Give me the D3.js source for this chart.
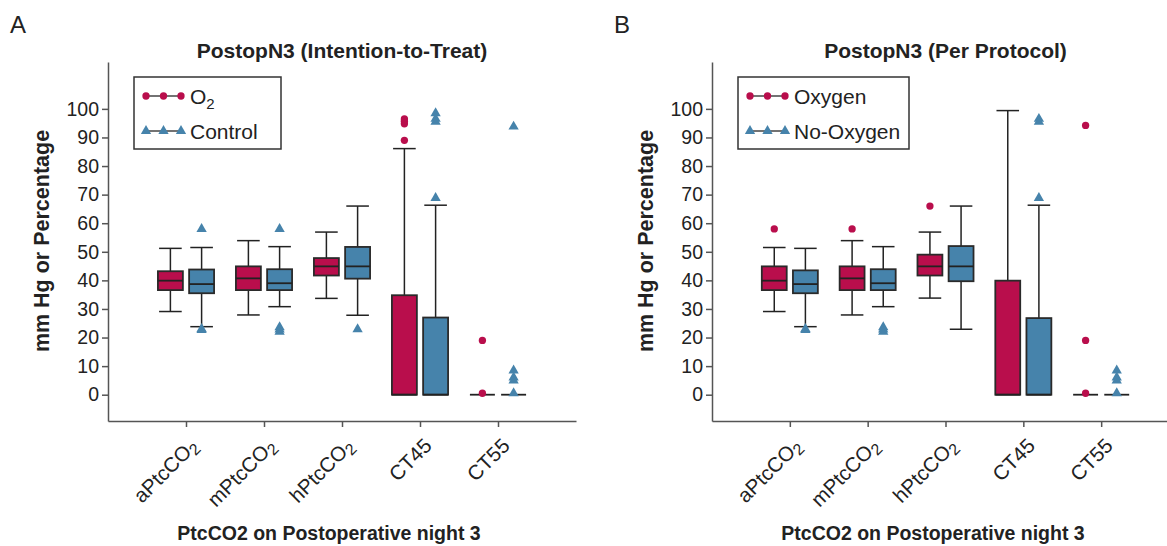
<!DOCTYPE html>
<html lang="en">
  <head>
    <meta charset="utf-8" />
    <title>PostopN3 PtcCO2 box plots</title>
    <script src="https://d3js.org/d3.v7.min.js"></script>
    <style type="text/css">
      body { margin: 0; background: #fff; }
      svg text { font-family: "Liberation Sans", Arial, Helvetica, sans-serif; fill: #222; }
    </style>
  </head>
  <body>
    <script type="text/javascript">
      //Width and height
      var w = 1167;
      var h = 546;

      var categories = ["aPtcCO2", "mPtcCO2", "hPtcCO2", "CT45", "CT55"];
      var yTicks = [0, 10, 20, 30, 40, 50, 60, 70, 80, 90, 100];

      // each row: [lower whisker, Q1, median, Q3, upper whisker]
      var ittO2Stats = [
        [29.1, 36.6, 39.9, 43.2, 51.2],
        [27.9, 36.6, 40.7, 44.9, 53.9],
        [33.7, 41.7, 44.9, 47.8, 56.9],
        [0, 0, 0, 34.8, 86.1],
        [0, 0, 0, 0, 0]
      ];
      var ittO2Outliers = [[], [], [], [89, 94.8, 95.7, 96.5], [0.5, 19]];
      var ittControlStats = [
        [23.8, 35.5, 38.7, 43.8, 51.5],
        [30.8, 36.6, 39, 43.9, 51.8],
        [27.8, 40.6, 44.9, 51.7, 66],
        [0, 0, 0, 27, 66.3],
        [0, 0, 0, 0, 0]
      ];
      var ittControlOutliers = [
        [22.6, 23, 58],
        [22, 22.8, 23.6, 58],
        [22.9],
        [68.8, 95.5, 96.5, 98.5],
        [0.5, 5, 6, 8.5, 93.8]
      ];

      var ppOxygenStats = [
        [29.1, 36.6, 39.9, 44.9, 51.5],
        [27.9, 36.6, 40.7, 44.9, 53.9],
        [33.8, 41.7, 44.9, 49, 56.9],
        [0, 0, 0, 39.9, 99.4],
        [0, 0, 0, 0, 0]
      ];
      var ppOxygenOutliers = [[58], [58], [66], [], [0.5, 19, 94.2]];
      var ppNoOxygenStats = [
        [23.8, 35.5, 38.7, 43.5, 51.2],
        [30.8, 36.6, 39, 43.9, 51.8],
        [22.9, 39.7, 44.9, 52, 66],
        [0, 0, 0, 26.8, 66.3],
        [0, 0, 0, 0, 0]
      ];
      var ppNoOxygenOutliers = [
        [22.6, 23],
        [22, 22.8, 23.6],
        [],
        [68.8, 95.5, 96.5],
        [0.5, 5, 6, 8.5]
      ];

      var red = "#b90e4c";
      var blue = "#4683ab";
      var font = "Liberation Sans, Arial, Helvetica, sans-serif";

      var panels = [
        {
          letter: "A", title: "PostopN3 (Intention-to-Treat)",
          left: 108, right: 576, legendW: 147,
          legend: [["O", "2"], ["Control", ""]],
          stats: [ittO2Stats, ittControlStats],
          outliers: [ittO2Outliers, ittControlOutliers]
        },
        {
          letter: "B", title: "PostopN3 (Per Protocol)",
          left: 712, right: 1179, legendW: 171,
          legend: [["Oxygen", ""], ["No-Oxygen", ""]],
          stats: [ppOxygenStats, ppNoOxygenStats],
          outliers: [ppOxygenOutliers, ppNoOxygenOutliers]
        }
      ];

      //Create SVG element
      var svg = d3.select("body").append("svg").attr("width", w).attr("height", h);

      var yScale = d3.scaleLinear().domain([-9.2, 116.4]).range([421, 62]);
      var colors = [red, blue];
      var symbols = [d3.symbolCircle, d3.symbolTriangle];
      var symSizes = [42, 46];

      panels.forEach(function (p) {
        var g = svg.append("g");
        var xScale = d3.scalePoint().domain(categories).range([p.left, p.right]).padding(1);
        var step = xScale.step();
        var off = step * 0.2, bw = step * 0.32, cw = step * 0.29;

        //Panel letter and title
        g.append("text").attr("x", p.left - 98).attr("y", 33)
          .style("font-size", "24px").text(p.letter);
        g.append("text").attr("x", (p.left + p.right) / 2).attr("y", 58)
          .attr("text-anchor", "middle").style("font-size", "21px")
          .style("font-weight", "bold").text(p.title);

        //Axis titles
        g.append("text")
          .attr("transform", "translate(" + (p.left - 59) + ",241) rotate(-90)")
          .attr("text-anchor", "middle").style("font-size", "21.5px")
          .style("font-weight", "bold").text("mm Hg or Percentage");
        g.append("text").attr("x", p.left + 221).attr("y", 540)
          .attr("text-anchor", "middle").style("font-size", "19.5px")
          .style("font-weight", "bold").text("PtcCO2 on Postoperative night 3");

        //Axes
        var yAxis = g.append("g").attr("transform", "translate(" + p.left + ",0)")
          .call(d3.axisLeft(yScale).tickValues(yTicks).tickSize(6).tickSizeOuter(0).tickPadding(3));
        yAxis.selectAll("text").attr("font-family", font).style("font-size", "19.5px").attr("fill", "#222");
        var xAxis = g.append("g").attr("transform", "translate(0,421)")
          .call(d3.axisBottom(xScale).tickSize(6).tickSizeOuter(0).tickFormat(""));
        [yAxis, xAxis].forEach(function (a) {
          a.select(".domain").attr("stroke", "#555").attr("stroke-width", 1.5);
          a.selectAll(".tick line").attr("stroke", "#555").attr("stroke-width", 1.5);
        });

        //Rotated category labels with subscript 2
        categories.forEach(function (c) {
          var t = g.append("text")
            .attr("transform", "translate(" + (xScale(c) + 13) + ",447) rotate(-45)")
            .attr("text-anchor", "end").style("font-size", "20.5px");
          if (/CO2$/.test(c)) {
            t.append("tspan").text(c.slice(0, -1));
            t.append("tspan").attr("dy", 4).style("font-size", "16px").text("2");
          } else {
            t.text(c);
          }
        });

        //Box plots
        [0, 1].forEach(function (s) {
          var dx = s === 0 ? -off : off;
          var sg = g.append("g");
          categories.forEach(function (c, i) {
            var d = p.stats[s][i];
            var cx = xScale(c) + dx;
            if (d[4] > d[3]) {
              sg.append("line").attr("x1", cx).attr("x2", cx)
                .attr("y1", yScale(d[4])).attr("y2", yScale(d[3]))
                .attr("stroke", "#222").attr("stroke-width", 1.5);
              sg.append("line").attr("x1", cx - cw / 2).attr("x2", cx + cw / 2)
                .attr("y1", yScale(d[4])).attr("y2", yScale(d[4]))
                .attr("stroke", "#222").attr("stroke-width", 1.5);
            }
            if (d[0] < d[1]) {
              sg.append("line").attr("x1", cx).attr("x2", cx)
                .attr("y1", yScale(d[1])).attr("y2", yScale(d[0]))
                .attr("stroke", "#222").attr("stroke-width", 1.5);
              sg.append("line").attr("x1", cx - cw / 2).attr("x2", cx + cw / 2)
                .attr("y1", yScale(d[0])).attr("y2", yScale(d[0]))
                .attr("stroke", "#222").attr("stroke-width", 1.5);
            }
            if (d[3] > d[1]) {
              sg.append("rect").attr("x", cx - bw / 2).attr("y", yScale(d[3]))
                .attr("width", bw).attr("height", yScale(d[1]) - yScale(d[3]))
                .attr("fill", colors[s]).attr("stroke", "#2a2a2a").attr("stroke-width", 1.8);
            }
            sg.append("line").attr("x1", cx - bw / 2).attr("x2", cx + bw / 2)
              .attr("y1", yScale(d[2])).attr("y2", yScale(d[2]))
              .attr("stroke", "#222").attr("stroke-width", 1.8);

            sg.selectAll(null).data(p.outliers[s][i]).enter().append("path")
              .attr("d", d3.symbol().type(symbols[s]).size(symSizes[s]))
              .attr("transform", function (v) { return "translate(" + cx + "," + yScale(v) + ")"; })
              .attr("fill", colors[s]);
          });
        });

        //Legend
        var lx = p.left + 26, ly = 77;
        g.append("rect").attr("x", lx).attr("y", ly).attr("width", p.legendW).attr("height", 72)
          .attr("fill", "#fff").attr("stroke", "#333").attr("stroke-width", 1.5);
        p.legend.forEach(function (item, k) {
          var ry = ly + 19 + k * 35;
          g.append("line").attr("x1", lx + 12).attr("x2", lx + 47)
            .attr("y1", ry).attr("y2", ry).attr("stroke", "#444").attr("stroke-width", 1.5);
          [0, 17.5, 35].forEach(function (mx) {
            g.append("path").attr("d", d3.symbol().type(symbols[k]).size(symSizes[k]))
              .attr("transform", "translate(" + (lx + 12 + mx) + "," + ry + ")")
              .attr("fill", colors[k]);
          });
          var t = g.append("text").attr("x", lx + 56).attr("y", ry + 7.5).style("font-size", "21px");
          t.append("tspan").text(item[0]);
          if (item[1]) {
            t.append("tspan").attr("dy", 5).style("font-size", "15px").text(item[1]);
          }
        });
      });
    </script>
  </body>
</html>
